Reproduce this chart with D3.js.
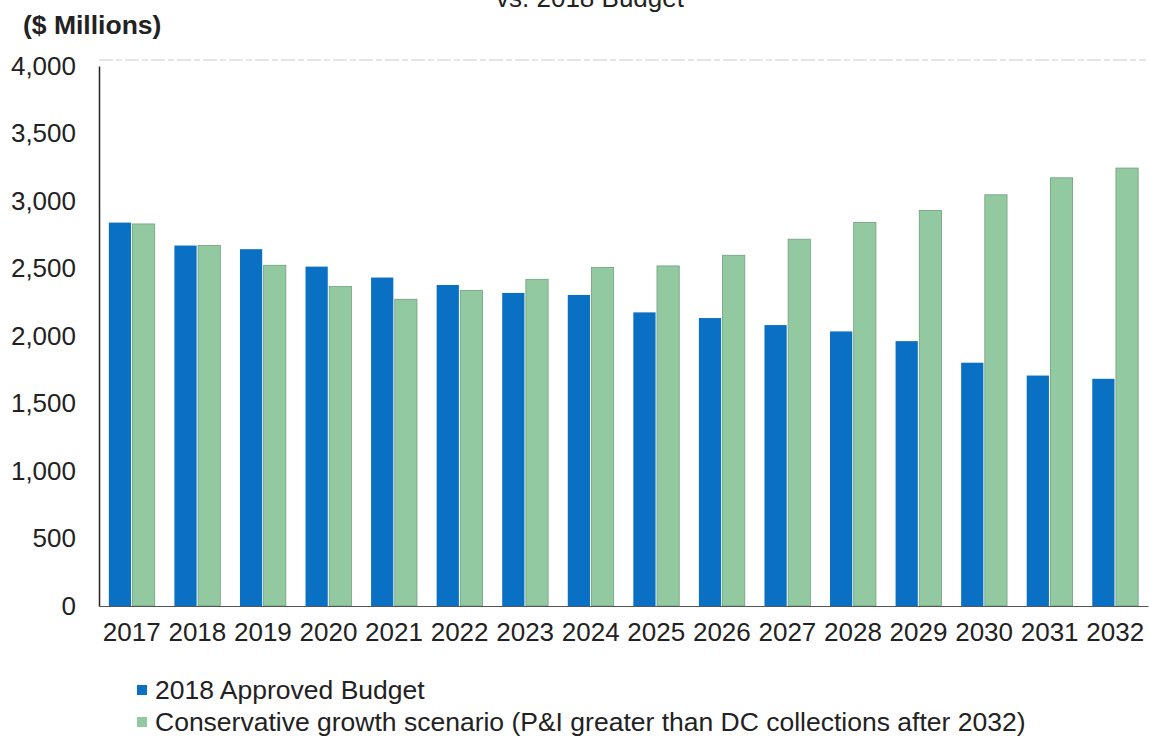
<!DOCTYPE html>
<html>
<head>
<meta charset="utf-8">
<script src="https://cdn.jsdelivr.net/npm/d3@7"></script>
<style>
  html, body { margin: 0; padding: 0; background: #fff; }
  svg { display: block; font-family: Arial, "Liberation Sans", sans-serif; }
</style>
</head>
<body>
<svg id="chart" width="1150" height="740"></svg>
<script>
// Years on the x axis
const years = ["2017","2018","2019","2020","2021","2022","2023","2024","2025","2026","2027","2028","2029","2030","2031","2032"];
// 2018 Approved Budget ($ millions)
const approvedBudget = [2840, 2670, 2643, 2514, 2433, 2378, 2319, 2304, 2175, 2133, 2081, 2034, 1962, 1802, 1707, 1683];
// Conservative growth scenario ($ millions)
const conservative = [2830, 2670, 2524, 2366, 2272, 2338, 2420, 2507, 2519, 2598, 2717, 2841, 2930, 3046, 3172, 3244];
const yTicks = [0, 500, 1000, 1500, 2000, 2500, 3000, 3500, 4000];
const seriesNames = ["2018 Approved Budget", "Conservative growth scenario (P&I greater than DC collections after 2032)"];
const seriesColors = ["#0a70c4", "#93c9a1"];

const FONT = "Arial, 'Liberation Sans', sans-serif";
const svg = d3.select("#chart");
const m = { left: 99, right: 1148, top: 66, bottom: 606 };

const x = d3.scaleBand().domain(years).range([m.left, m.right]).paddingInner(0.3).paddingOuter(0.15);
const y = d3.scaleLinear().domain([0, 4000]).range([m.bottom, m.top]);

const inner = d3.scaleBand().domain([0, 1]).range([0, x.bandwidth()]).paddingInner(0.06);

// Title line (runs off the top edge) and unit label
svg.append("text").attr("x", 590).attr("y", 7).attr("text-anchor", "middle")
  .attr("font-size", 26).attr("fill", "#222").text("vs. 2018 Budget");
svg.append("text").attr("x", 23).attr("y", 34).attr("font-size", 26.5).attr("font-weight", "bold")
  .attr("fill", "#222").text("($ Millions)");

// Dashed top border of plot area
svg.append("line").attr("x1", m.left).attr("x2", 1146).attr("y1", 60).attr("y2", 60)
  .attr("stroke", "#cccccc").attr("stroke-width", 1.2).attr("stroke-dasharray", "14 3 6 3");

// Bars
const rows = years.map((yr, i) => ({ yr, vals: [approvedBudget[i], conservative[i]] }));
const groups = svg.append("g").selectAll("g").data(rows).join("g")
  .attr("transform", d => `translate(${x(d.yr)},0)`);
groups.selectAll("rect").data(d => d.vals.map((v, k) => ({ v, k }))).join("rect")
  .attr("x", d => inner(d.k))
  .attr("width", inner.bandwidth())
  .attr("y", d => y(d.v))
  .attr("height", d => y(0) - y(d.v))
  .attr("fill", d => seriesColors[d.k])
  .attr("stroke", d => d.k === 1 ? "#6f9f7c" : "none")
  .attr("stroke-width", 0.8);

// Y axis
const yAxis = svg.append("g").attr("transform", `translate(${m.left},0)`)
  .call(d3.axisLeft(y).tickValues(yTicks).tickSize(0).tickPadding(23).tickFormat(d3.format(",")));
yAxis.select(".domain").attr("stroke", "#222").attr("stroke-width", 1.5);
yAxis.selectAll("text").attr("font-size", 26).attr("fill", "#222").attr("font-family", FONT);

// X axis
const xAxis = svg.append("g").attr("transform", `translate(0,${m.bottom})`)
  .call(d3.axisBottom(x).tickSize(0).tickPadding(17));
xAxis.select(".domain").attr("stroke", "#555").attr("stroke-width", 1.2);
xAxis.selectAll("text").attr("font-size", 26).attr("fill", "#222").attr("font-family", FONT);

// Legend
const legendRows = [699, 731];
const legend = svg.append("g").selectAll("g").data(seriesNames).join("g")
  .attr("transform", (d, i) => `translate(137,${legendRows[i]})`);
legend.append("rect").attr("x", 0).attr("y", -14).attr("width", 10).attr("height", 10)
  .attr("fill", (d, i) => seriesColors[i]);
legend.append("text").attr("x", 18).attr("y", 0).attr("font-size", 26.5).attr("fill", "#222")
  .attr("font-family", FONT).text(d => d);
</script>
</body>
</html>
